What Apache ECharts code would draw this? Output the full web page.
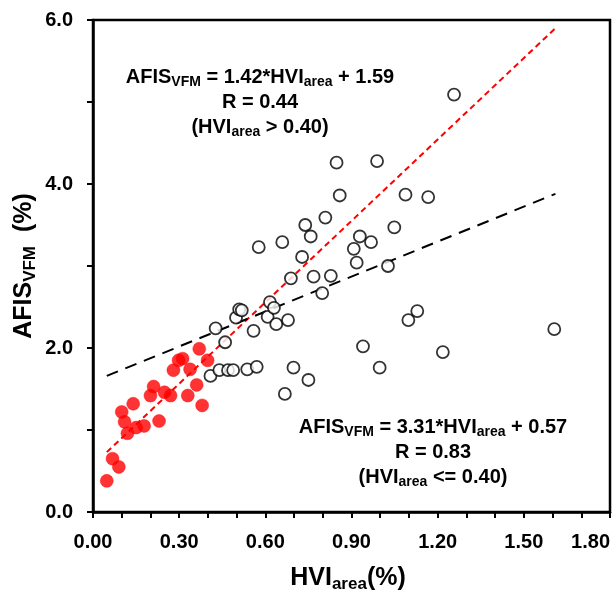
<!DOCTYPE html>
<html>
<head>
<meta charset="utf-8">
<script src="https://cdn.jsdelivr.net/npm/echarts@6/dist/echarts.min.js"></script>
<style>
html,body{margin:0;padding:0;background:#fff;}
#chart{width:613px;height:595px;}
</style>
</head>
<body>
<div id="chart"></div>
<script>
// HVI_area > 0.40 (open black circles)
var openX = [0.427,0.46,0.409,0.44,0.47,0.488,0.498,0.509,0.518,0.537,0.559,0.57,0.608,0.616,0.63,0.638,0.668,0.679,0.698,0.75,0.798,0.94,0.998,1.098,1.129,1.218,1.606,
             1.257,0.848,0.989,0.859,1.088,1.167,0.809,0.739,1.049,0.758,0.659,0.577,0.929,0.968,0.908,0.728,0.918,1.027,0.689,0.768,0.828];
var openY = [2.24,2.07,1.66,1.73,1.73,1.73,2.37,2.47,2.46,1.74,2.21,1.77,2.38,2.56,2.49,2.29,1.44,2.34,1.76,1.61,2.67,2.02,1.76,2.34,2.45,1.95,2.23,
             5.09,4.26,4.28,3.86,3.87,3.84,3.59,3.50,3.47,3.36,3.29,3.23,3.36,3.29,3.21,3.11,3.04,3.00,2.85,2.87,2.88];
// HVI_area <= 0.40 (filled red circles)
var redX = [0.048,0.068,0.09,0.10,0.11,0.12,0.14,0.15,0.178,0.20,0.211,0.23,0.249,0.27,0.28,0.298,0.312,0.33,0.338,0.361,0.37,0.38,0.399];
var redY = [0.38,0.65,0.55,1.22,1.10,0.96,1.32,1.03,1.05,1.42,1.53,1.11,1.46,1.42,1.73,1.85,1.87,1.42,1.74,1.55,1.99,1.30,1.85];
// fitted line end points
var blackLineX = [0.048, 1.61];
var blackLineY = [1.66, 3.88];
var redLineX = [0.048, 1.61];
var redLineY = [0.73, 5.90];
// axis ticks
var xMin = 0, xMax = 1.8, xStep = 0.1;
var yMin = 0, yMax = 6, yStep = 1;

function pairs(xs, ys){ return xs.map(function(x,i){ return [x, ys[i]]; }); }

var FONT = "'Liberation Sans', Arial, sans-serif";
var chart = echarts.init(document.getElementById('chart'));

function richSet(color, main, sub, lh){
  return {
    m: {fontFamily: FONT, fontWeight: 'bold', fontSize: main, color: color, lineHeight: lh},
    s: {fontFamily: FONT, fontWeight: 'bold', fontSize: sub, color: color, lineHeight: sub, verticalAlign: 'bottom'}
  };
}

var option = {
  backgroundColor: '#fff',
  animation: false,
  grid: {left: 93, top: 20, right: 3, bottom: 83, containLabel: false, outerBoundsMode: 'none',
         show: true, borderColor: '#000', borderWidth: 2.5, backgroundColor: 'transparent'},
  xAxis: {
    type: 'value', min: xMin, max: xMax, interval: xStep,
    splitLine: {show: false},
    axisLine: {lineStyle: {color: '#000', width: 2.5}},
    axisTick: {inside: false, length: 6, lineStyle: {color: '#000', width: 2}},
    axisLabel: {
      margin: 20, color: '#000', fontFamily: FONT, fontWeight: 'bold', fontSize: 20,
      hideOverlap: false, alignMaxLabel: 'right',
      formatter: function(v){ return Math.round(v*10) % 3 === 0 ? v.toFixed(2) : ''; }
    }
  },
  yAxis: {
    type: 'value', min: yMin, max: yMax, interval: yStep,
    splitLine: {show: false},
    axisLine: {lineStyle: {color: '#000', width: 2.5}},
    axisTick: {inside: false, length: 6, lineStyle: {color: '#000', width: 2}},
    axisLabel: {
      margin: 20, color: '#000', fontFamily: FONT, fontWeight: 'bold', fontSize: 20,
      formatter: function(v){ return Math.round(v) % 2 === 0 ? v.toFixed(1) : ''; }
    }
  },
  series: [
    {type: 'line', data: pairs(redLineX, redLineY), symbol: 'none', z: 2,
     lineStyle: {color: '#ff0000', width: 2, type: [6, 4]}},
    {type: 'line', data: pairs(blackLineX, blackLineY), symbol: 'none', z: 2,
     lineStyle: {color: '#000', width: 2, type: [12, 8]}},
    {type: 'scatter', data: pairs(openX, openY), symbol: 'circle', symbolSize: 12, z: 3,
     itemStyle: {color: '#fff', borderColor: '#000', borderWidth: 1.8}},
    {type: 'scatter', data: pairs(redX, redY), symbol: 'circle', symbolSize: 13, z: 4,
     itemStyle: {color: '#ff0000', borderColor: '#ff0000', borderWidth: 0.5}}
  ],
  graphic: [
    {type: 'text', x: 260, y: 102, z: 10, style: {
      text: '{m|AFIS}{s|VFM}{m| = 1.42*HVI}{s|area}{m| + 1.59}\n{m|R = 0.44}\n{m|(HVI}{s|area}{m| > 0.40)}',
      align: 'center', verticalAlign: 'middle', rich: richSet('#000', 20, 14, 25)}},
    {type: 'text', x: 433, y: 452, z: 10, style: {
      text: '{m|AFIS}{s|VFM}{m| = 3.31*HVI}{s|area}{m| + 0.57}\n{m|R = 0.83}\n{m|(HVI}{s|area}{m| <= 0.40)}',
      align: 'center', verticalAlign: 'middle', rich: richSet('#ff0000', 20, 14, 25)}},
    {type: 'text', x: 348, y: 578, z: 10, style: {
      text: '{m|HVI}{s|area}{m|(%)}',
      align: 'center', verticalAlign: 'middle', rich: richSet('#000', 25, 17, 30)}},
    {type: 'text', x: 24, y: 266, rotation: Math.PI/2, z: 10, style: {
      text: '{m|AFIS}{s|VFM}{m|  (%)}',
      align: 'center', verticalAlign: 'middle', rich: richSet('#000', 25, 17, 30)}}
  ]
};
chart.setOption(option);
</script>
</body>
</html>
